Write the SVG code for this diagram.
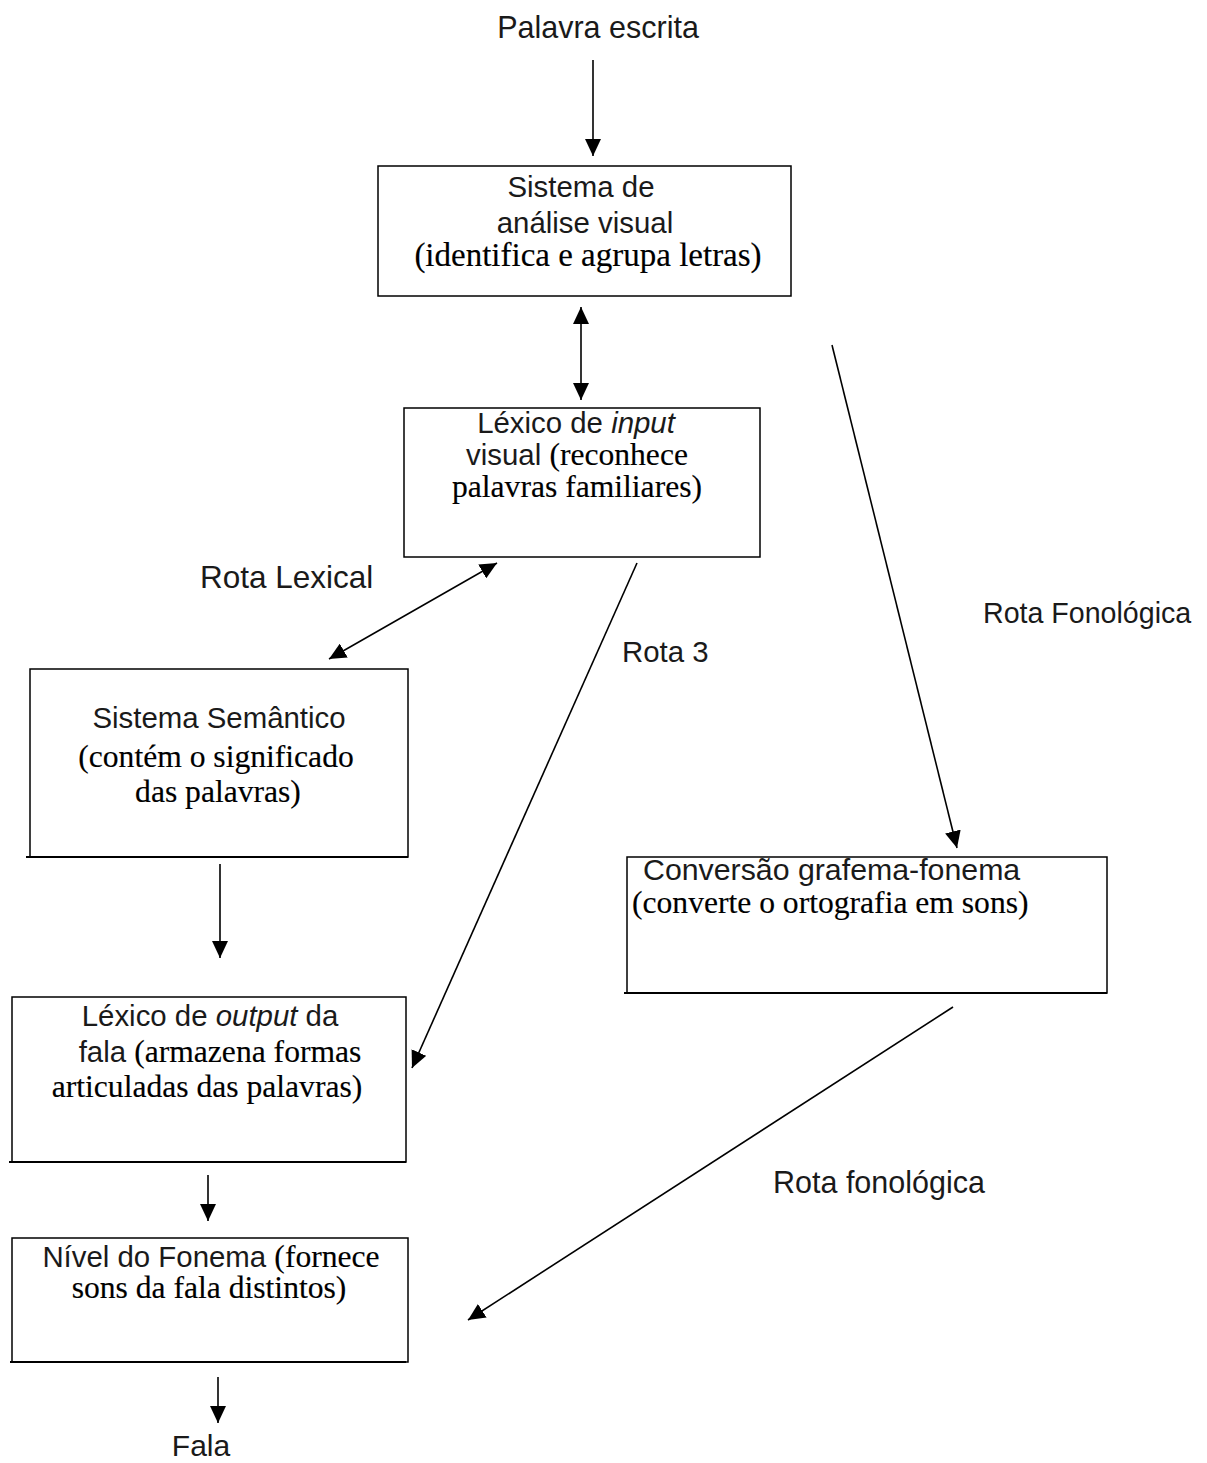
<svg xmlns="http://www.w3.org/2000/svg" width="1207" height="1463" viewBox="0 0 1207 1463">
<defs>
<marker id="ah" markerUnits="userSpaceOnUse" markerWidth="18" markerHeight="16" refX="17" refY="8" orient="auto-start-reverse">
<path d="M0,0 L17,8 L0,16 z" fill="#000"/>
</marker>
</defs>
<style>
.sans{font-family:"Liberation Sans",Arial,sans-serif;font-size:29.4px;fill:#1a1a1a}
.serif{font-family:"Liberation Serif","Times New Roman",serif;font-size:31.6px;fill:#000;stroke:#000;stroke-width:0.15}
.it{font-style:italic}
.box{fill:none;stroke:#000;stroke-width:1.5}
.base{stroke:#000;stroke-width:2.2}
.conn line{stroke:#000;stroke-width:1.6;fill:none}
</style>
<rect width="1207" height="1463" fill="#fff"/>

<text class="sans" x="598" y="38" text-anchor="middle" style="font-size:30.5px">Palavra escrita</text>

<g id="n-analise">
<rect class="box" x="378" y="166" width="413" height="130"/>
<text class="sans" x="581" y="197" text-anchor="middle">Sistema de</text>
<text class="sans" x="585" y="233" text-anchor="middle">análise visual</text>
<text class="serif" x="588" y="266" text-anchor="middle" style="font-size:33px">(identifica e agrupa letras)</text>
</g>

<g id="n-input">
<rect class="box" x="404" y="408" width="356" height="149"/>
<text class="sans" x="576" y="433" text-anchor="middle">Léxico de <tspan class="it">input</tspan></text>
<text x="577" y="465" text-anchor="middle"><tspan class="sans">visual </tspan><tspan class="serif">(reconhece</tspan></text>
<text class="serif" x="577" y="497" text-anchor="middle">palavras familiares)</text>
</g>

<g id="n-semantico">
<rect class="box" x="30" y="669" width="378" height="188"/>
<line class="base" x1="26" y1="857" x2="408" y2="857"/>
<text class="sans" x="219" y="728" text-anchor="middle">Sistema Semântico</text>
<text class="serif" x="216" y="767" text-anchor="middle">(contém o significado</text>
<text class="serif" x="218" y="802" text-anchor="middle">das palavras)</text>
</g>

<g id="n-conversao">
<rect class="box" x="627" y="857" width="480" height="136"/>
<line class="base" x1="624" y1="993" x2="1107" y2="993"/>
<text class="sans" x="643" y="880" style="font-size:30.3px">Conversão grafema-fonema</text>
<text class="serif" x="632" y="913">(converte o ortografia em sons)</text>
</g>

<g id="n-output">
<rect class="box" x="12" y="997" width="394" height="165"/>
<line class="base" x1="9" y1="1162" x2="406" y2="1162"/>
<text class="sans" x="210" y="1026" text-anchor="middle">Léxico de <tspan class="it">output</tspan> da</text>
<text x="220" y="1062" text-anchor="middle"><tspan class="sans">fala </tspan><tspan class="serif">(armazena formas</tspan></text>
<text class="serif" x="207" y="1097" text-anchor="middle">articuladas das palavras)</text>
</g>

<g id="n-fonema">
<rect class="box" x="12" y="1238" width="396" height="124"/>
<line class="base" x1="10" y1="1362" x2="406" y2="1362"/>
<text x="211" y="1267" text-anchor="middle"><tspan class="sans">Nível do Fonema </tspan><tspan class="serif">(fornece</tspan></text>
<text class="serif" x="209" y="1298" text-anchor="middle">sons da fala distintos)</text>
</g>

<text class="sans" x="201" y="1456" text-anchor="middle" style="font-size:30px">Fala</text>

<g class="conn" id="connectors">
<line x1="593" y1="60" x2="593" y2="156" marker-end="url(#ah)"/>
<line x1="581" y1="307" x2="581" y2="400" marker-start="url(#ah)" marker-end="url(#ah)"/>
<line x1="497" y1="563" x2="329" y2="659" marker-start="url(#ah)" marker-end="url(#ah)"/>
<line x1="637" y1="563" x2="412" y2="1068" marker-end="url(#ah)"/>
<line x1="832" y1="345" x2="957" y2="848" marker-end="url(#ah)"/>
<line x1="953" y1="1007" x2="468" y2="1320" marker-end="url(#ah)"/>
<line x1="220" y1="864" x2="220" y2="958" marker-end="url(#ah)"/>
<line x1="208" y1="1175" x2="208" y2="1221" marker-end="url(#ah)"/>
<line x1="218" y1="1377" x2="218" y2="1423" marker-end="url(#ah)"/>
</g>

<text class="sans" x="200" y="588" style="font-size:31.5px">Rota Lexical</text>
<text class="sans" x="622" y="662">Rota 3</text>
<text class="sans" x="983" y="623" style="font-size:28.6px">Rota Fonológica</text>
<text class="sans" x="773" y="1193" style="font-size:30.5px">Rota fonológica</text>
</svg>
